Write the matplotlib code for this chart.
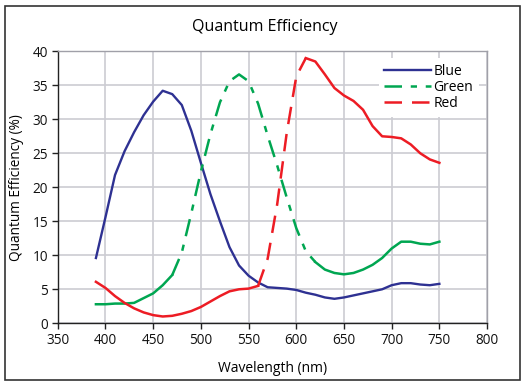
import matplotlib
matplotlib.use("Agg")
import matplotlib.pyplot as plt
from matplotlib.patches import Rectangle

plt.rcParams['font.family'] = ['Open Sans', 'DejaVu Sans']

wavelength = [390, 400, 410, 420, 430, 440, 450, 460, 470, 480, 490, 500, 510, 520, 530,
              540, 550, 560, 570, 580, 590, 600, 610, 620, 630, 640, 650, 660, 670, 680,
              690, 700, 710, 720, 730, 740, 750]
blue = [9.6, 15.6, 21.8, 25.3, 28.1, 30.6, 32.6, 34.2, 33.7, 32.1, 28.3, 23.6, 19.0, 15.0, 11.2,
        8.5, 7.0, 6.0, 5.3, 5.2, 5.1, 4.9, 4.5, 4.2, 3.8, 3.6, 3.8, 4.1, 4.4, 4.7,
        5.0, 5.6, 5.9, 5.9, 5.7, 5.6, 5.8]
green = [2.8, 2.8, 2.9, 2.9, 3.0, 3.7, 4.4, 5.6, 7.1, 10.4, 16.2, 22.3, 27.8, 32.5, 35.6,
         36.6, 35.6, 32.3, 27.6, 23.2, 18.5, 14.0, 10.6, 9.0, 7.9, 7.4, 7.2, 7.4, 7.9, 8.6,
         9.6, 11.0, 12.0, 12.0, 11.7, 11.6, 12.0]
red = [6.1, 5.2, 4.0, 3.0, 2.2, 1.6, 1.2, 1.0, 1.1, 1.4, 1.8, 2.4, 3.2, 4.0, 4.7,
       5.0, 5.1, 5.5, 9.5, 17.5, 28.0, 36.3, 39.0, 38.5, 36.6, 34.6, 33.5, 32.7, 31.4, 29.0,
       27.5, 27.4, 27.2, 26.3, 25.0, 24.1, 23.6]

xticks = [350, 400, 450, 500, 550, 600, 650, 700, 750, 800]
yticks = [0, 5, 10, 15, 20, 25, 30, 35, 40]

# index ranges where the dashed curves appear dashed in the reference (steep parts)
green_dash = (8, 23)   # 470..620 dashed
red_dash = (17, 22)    # 560..610 dashed

BLUE, GREEN, RED = '#2E3192', '#00A651', '#ED1C24'

fig = plt.figure(figsize=(5.30, 3.82), dpi=100)
ax = fig.add_axes([0.109, 0.1537, 0.810, 0.712])

ax.plot(wavelength, blue, color=BLUE, lw=1.7, label='Blue')

a, b = green_dash
ax.plot(wavelength[:a + 1], green[:a + 1], color=GREEN, lw=1.8)
ax.plot(wavelength[a:b + 1], green[a:b + 1], color=GREEN, lw=1.8,
        dashes=(7, 3.5, 2.5, 3.5), label='Green')
ax.plot(wavelength[b:], green[b:], color=GREEN, lw=1.8)

a, b = red_dash
ax.plot(wavelength[:a + 1], red[:a + 1], color=RED, lw=1.8)
ax.plot(wavelength[a:b + 1], red[a:b + 1], color=RED, lw=1.8, dashes=(7, 4), label='Red')
ax.plot(wavelength[b:], red[b:], color=RED, lw=1.8)

ax.set_xlim(350, 800)
ax.set_ylim(0, 40)
ax.set_xticks(xticks)
ax.set_yticks(yticks)
ax.grid(True, color='#CCCCD2', lw=1.2)
ax.set_axisbelow(True)
for s in ['top', 'right']:
    ax.spines[s].set_color('#A0A0A8')
    ax.spines[s].set_linewidth(1.0)
for s in ['left', 'bottom']:
    ax.spines[s].set_color('#222222')
    ax.spines[s].set_linewidth(1.0)
ax.tick_params(axis='both', direction='out', length=4, width=1, labelsize=9.8,
               colors='#222222', labelcolor='#111111', pad=3)

ax.set_xlabel('Wavelength (nm)', fontsize=10, labelpad=9)
ax.set_ylabel('Quantum Efficiency (%)', fontsize=9.8, labelpad=6)

leg = ax.legend(loc='upper right', bbox_to_anchor=(0.997, 1.0), frameon=True,
                fancybox=False, edgecolor='none', facecolor='white', framealpha=1,
                fontsize=10, handlelength=3.4, handletextpad=0.15, labelspacing=0.08,
                borderpad=0.4)

fig.text(0.5, 0.93, 'Quantum Efficiency', ha='center', va='center', fontsize=11.5)

fig.patches.append(Rectangle((5/530, 2/382), 515/530, 374/382, transform=fig.transFigure,
                             fill=False, edgecolor='#333333', lw=1.2))

fig.savefig('out.png', dpi=100)
